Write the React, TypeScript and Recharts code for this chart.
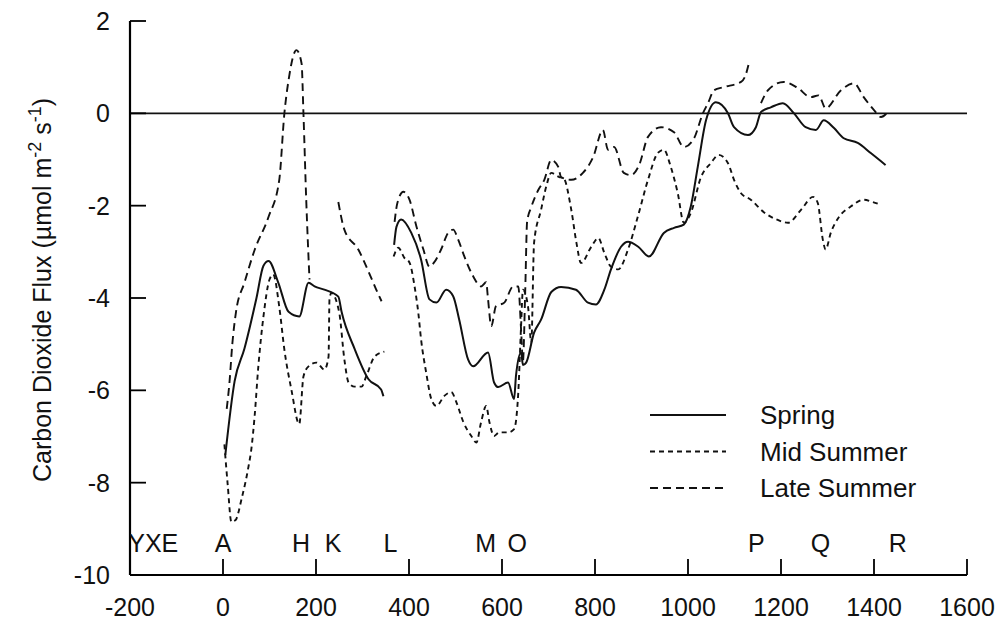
import {
  ComposedChart,
  Line,
  Scatter,
  XAxis,
  YAxis,
  ReferenceLine,
} from 'recharts'

type Pt = [number, number]

// distance along flight track (km) vs CO2 flux
const springWest: Pt[] = [
  [5, -7.4], [25, -5.8], [46, -5.1], [72, -4.0], [87, -3.3], [98, -3.2], [119, -3.67],
  [141, -4.3], [164, -4.4], [184, -3.67], [197, -3.75], [218, -3.82], [248, -3.97],
  [255, -4.3], [283, -5.1], [313, -5.76], [340, -5.98], [345, -6.13],
]
const springEast: Pt[] = [
  [368, -2.85], [373, -2.46], [383, -2.3], [405, -2.59], [426, -3.17], [444, -4.03],
  [459, -4.1], [480, -3.82], [495, -3.96], [508, -4.47], [527, -5.33], [538, -5.48],
  [570, -5.18], [583, -5.83], [592, -5.93], [613, -5.83], [626, -6.19], [630, -5.69],
  [641, -5.18], [645, -5.45], [652, -5.4], [669, -4.75], [684, -4.47], [706, -3.87],
  [727, -3.76], [759, -3.82], [785, -4.1], [802, -4.14], [820, -3.82], [834, -3.39],
  [856, -2.89], [871, -2.78], [893, -2.89], [916, -3.1], [948, -2.59], [970, -2.48],
  [991, -2.41], [1006, -2.02], [1021, -1.16], [1039, -0.14], [1060, 0.24], [1086, 0],
  [1099, -0.3], [1129, -0.47], [1146, -0.3], [1157, 0.03], [1178, 0.13], [1204, 0.22],
  [1228, 0], [1253, -0.3], [1275, -0.36], [1292, -0.15], [1314, -0.32], [1335, -0.54],
  [1365, -0.64], [1393, -0.86], [1425, -1.12],
]

const midWest: Pt[] = [
  [3, -7.17], [10, -8.03], [18, -8.85], [27, -8.81], [40, -8.35], [55, -7.64], [61, -7.27],
  [68, -6.56], [76, -5.48], [87, -4.4], [100, -3.6], [108, -3.49], [121, -4.19],
  [132, -5.12], [147, -5.98], [164, -6.73], [173, -5.7], [184, -5.48], [201, -5.4],
  [218, -5.55], [227, -5.27], [229, -4.03], [233, -3.89], [250, -4.32], [261, -5.33],
  [270, -5.83], [283, -5.92], [298, -5.92], [308, -5.7], [326, -5.27], [347, -5.16],
]
const midEast: Pt[] = [
  [367, -3.1], [377, -2.91], [390, -3.13], [401, -3.23], [412, -3.75], [420, -4.32],
  [426, -4.9], [437, -5.62], [448, -6.19], [459, -6.34], [476, -6.12], [491, -6.04],
  [502, -6.26], [517, -6.69], [534, -6.99], [545, -7.13], [555, -6.69], [566, -6.34],
  [573, -6.69], [583, -6.99], [594, -6.91], [613, -6.91], [626, -6.84], [635, -6.05],
  [641, -4.61], [645, -3.82], [656, -4.19], [663, -4.97], [669, -2.8], [684, -2.09],
  [695, -1.59], [706, -1.29], [723, -1.38], [732, -1.4], [749, -2.09], [760, -2.8],
  [770, -3.24], [792, -2.89], [807, -2.7], [820, -3.02], [834, -3.32], [850, -3.38],
  [871, -2.95], [892, -2.24], [914, -1.44], [935, -0.86], [948, -0.79], [963, -1.16],
  [978, -1.73], [991, -2.37], [1006, -2.16], [1028, -1.38], [1049, -1.08], [1066, -0.9],
  [1086, -1.08], [1099, -1.44], [1114, -1.73], [1135, -1.87], [1163, -2.14],
  [1193, -2.31], [1215, -2.37], [1243, -2.09], [1269, -1.81], [1279, -1.94],
  [1290, -2.74], [1296, -2.95], [1307, -2.59], [1325, -2.24], [1350, -2.02],
  [1378, -1.87], [1397, -1.92], [1415, -1.98],
]

const lateWest: Pt[] = [
  [8, -6.4], [14, -5.82], [20, -5.0], [28, -4.3], [46, -3.67], [68, -2.96], [98, -2.24],
  [121, -1.44], [132, 0], [141, 0.72], [158, 1.37], [169, 1.08], [173, 0], [179, -1.88],
  [186, -3.6],
]
const lateK: Pt[] = [
  [248, -1.92], [261, -2.52], [291, -2.95], [313, -3.43], [334, -3.92], [341, -4.07],
]
const lateCentral: Pt[] = [
  [369, -2.35], [375, -1.94], [388, -1.7], [401, -1.87], [416, -2.45], [431, -2.95],
  [444, -3.32], [454, -3.23], [469, -2.95], [484, -2.59], [495, -2.52], [506, -2.74],
  [519, -3.1], [538, -3.53], [555, -3.75], [566, -3.66], [570, -4.03], [577, -4.61],
  [587, -4.18], [605, -4.1], [624, -3.75], [635, -3.75], [641, -4.68], [645, -5.37],
  [650, -3.82], [654, -2.35], [663, -2.03], [678, -1.66], [691, -1.44], [706, -1.01],
  [721, -1.16], [727, -1.38], [749, -1.44], [774, -1.29], [796, -0.95], [817, -0.36],
  [828, -0.79], [841, -0.73], [862, -1.29], [877, -1.34], [895, -1.12], [914, -0.51],
  [942, -0.3], [970, -0.41], [991, -0.73], [1013, -0.54], [1032, 0], [1043, 0.22],
  [1056, 0.5], [1077, 0.57], [1114, 0.68], [1124, 0.83], [1131, 1.09],
]
const lateEast: Pt[] = [
  [1157, 0.22], [1172, 0.5], [1206, 0.68], [1236, 0.55], [1264, 0.35], [1281, 0.39],
  [1296, 0.11], [1329, 0.5], [1357, 0.65], [1378, 0.35], [1400, 0.07], [1415, -0.08],
  [1430, 0.03],
]

const siteNames = ['YXE', 'A', 'H', 'K', 'L', 'M', 'O', 'P', 'Q', 'R']
const siteKm = [-150, 0, 168, 237, 360, 565, 633, 1147, 1285, 1451]
const siteRow = -9.3

const xTicks = [-200, 0, 200, 400, 600, 800, 1000, 1200, 1400, 1600]
const yTicks = [-10, -8, -6, -4, -2, 0, 2]

const series = [
  { name: 'Spring', dash: undefined, width: 2, segments: [springWest, springEast] },
  { name: 'Mid Summer', dash: '5 4', width: 1.9, segments: [midWest, midEast] },
  { name: 'Late Summer', dash: '8 5', width: 1.9, segments: [lateWest, lateK, lateCentral, lateEast] },
]

const FONT = '"Liberation Sans", Arial, Helvetica, sans-serif'
const TICK = { fontSize: 25, fill: '#111', fontFamily: FONT }

const toRows = (pts: Pt[]) => pts.map(([x, y]) => ({ x, y }))
const sites = siteNames.map((name, i) => ({ x: siteKm[i], y: siteRow, name }))

function SiteLabel(props: any) {
  const { cx, cy, payload } = props
  return (
    <text x={cx} y={cy + 9} textAnchor="middle" fontSize={25} fontFamily={FONT} fill="#111">
      {payload.name}
    </text>
  )
}

function Overlay() {
  const legendRows = series.map((s, i) => ({ ...s, y: 415 + i * 36.5 }))
  return (
    <svg width={999} height={630} style={{ position: 'absolute', left: 0, top: 0, pointerEvents: 'none' }}>
      <text
        transform="translate(51 290) rotate(-90)"
        textAnchor="middle"
        fontSize={25}
        fontFamily={FONT}
        fill="#111"
      >
        Carbon Dioxide Flux (µmol m<tspan dy={-10} fontSize={18}>-2</tspan>
        <tspan dy={10}> s</tspan>
        <tspan dy={-10} fontSize={18}>-1</tspan>
        <tspan dy={10}>)</tspan>
      </text>
      {legendRows.map((r) => (
        <g key={r.name}>
          <line x1={650} x2={726} y1={r.y} y2={r.y} stroke="#111" strokeWidth={r.width} strokeDasharray={r.dash} />
          <text x={760} y={r.y + 9} fontSize={26} fontFamily={FONT} fill="#111">
            {r.name}
          </text>
        </g>
      ))}
    </svg>
  )
}

export default function App() {
  return (
    <div style={{ position: 'absolute', left: 0, top: 0, width: 999, height: 630, background: '#fff' }}>
      <ComposedChart width={999} height={630} margin={{ top: 21, right: 32, bottom: 0, left: 0 }}>
        <XAxis
          dataKey="x"
          type="number"
          domain={[-200, 1600]}
          ticks={xTicks}
          allowDataOverflow
          height={55}
          tickSize={-16}
          tickMargin={39}
          tick={TICK}
          axisLine={{ stroke: '#000', strokeWidth: 2.2 }}
          tickLine={{ stroke: '#000', strokeWidth: 1.8 }}
        />
        <XAxis xAxisId="top" orientation="top" type="number" domain={[-200, 1600]} height={0}
          tick={false} tickLine={false} axisLine={{ stroke: '#000', strokeWidth: 2.2 }} />
        <YAxis
          type="number"
          domain={[-10, 2]}
          ticks={yTicks}
          allowDataOverflow
          width={130}
          tickSize={-16}
          tickMargin={36}
          tick={TICK}
          axisLine={{ stroke: '#000', strokeWidth: 2.2 }}
          tickLine={{ stroke: '#000', strokeWidth: 1.8 }}
        />
        <YAxis yAxisId="right" orientation="right" type="number" domain={[-10, 2]} width={0}
          tick={false} tickLine={false} axisLine={{ stroke: '#000', strokeWidth: 2.2 }} />
        <ReferenceLine y={0} stroke="#111" strokeWidth={1.8} />
        {series.flatMap((s) =>
          s.segments.map((seg, j) => (
            <Line
              key={`${s.name}-${j}`}
              data={toRows(seg)}
              dataKey="y"
              name={s.name}
              type="monotone"
              stroke="#111"
              strokeWidth={s.width}
              strokeDasharray={s.dash}
              dot={false}
              activeDot={false}
              isAnimationActive={false}
            />
          )),
        )}
        <Scatter data={sites} dataKey="y" shape={SiteLabel} isAnimationActive={false} />
      </ComposedChart>
      <Overlay />
    </div>
  )
}
